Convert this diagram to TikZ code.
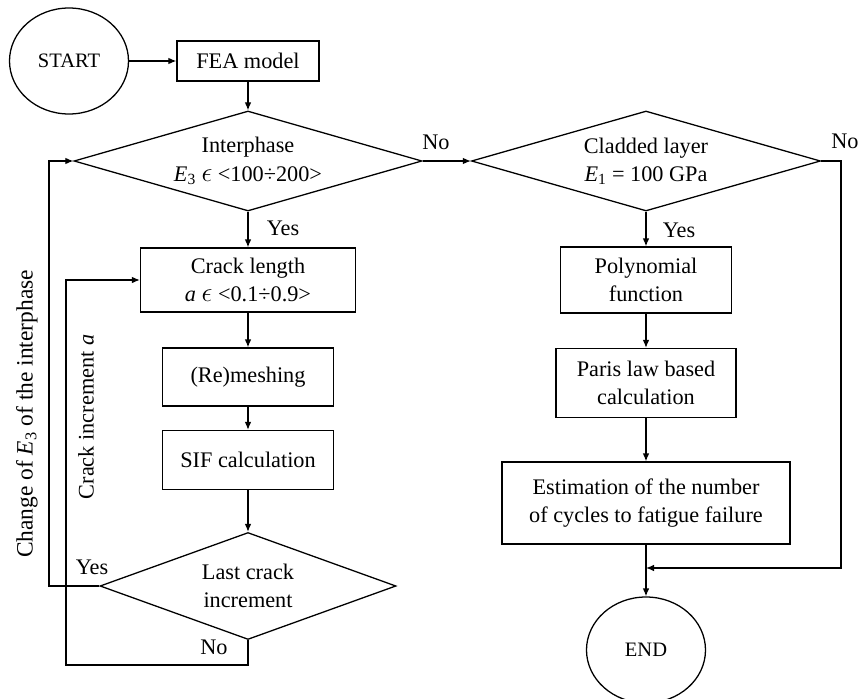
\documentclass[tikz,border=0pt]{standalone}
\usepackage{fontspec}
\usepackage{graphicx}
\setmainfont{Liberation Serif}
\usetikzlibrary{shapes.geometric,arrows.meta}
\newcommand{\inrange}{\scalebox{1.35}{$\epsilon$}}

\tikzset{
	box/.style={draw, line width=1.1pt, rectangle, align=center, inner sep=2pt},
	decision/.style={draw, line width=1.1pt, diamond, aspect=3.5, inner sep=0pt, align=center},
	terminal/.style={draw, line width=1.1pt, ellipse, inner sep=0pt, minimum width=3.57cm, minimum height=3.18cm},
	flow/.style={line width=1.1pt, -{Latex[length=2.4mm,width=2mm]}},
	tag/.style={inner sep=0pt}
}

\begin{document}
\begin{tikzpicture}[x=0.03cm, y=-0.03cm, font=\fontsize{19}{24}\selectfont]
			%%%%% FRAME %%%%%
			\useasboundingbox (0,0) rectangle (860,699);
			
			%%%%% LEFT COLUMN %%%%%
			\node[terminal] (start) at (69,61) {\fontsize{17.5}{20}\selectfont START};
			\node[box, minimum width=4.26cm, minimum height=1.2cm] (fea) at (248,61) {FEA model};
			\node[decision, minimum width=10.44cm, minimum height=3cm] (inter) at (248,161) {Interphase\\\textit{E}\textsubscript{3} \inrange{} <100÷200>};
			\node[box, minimum width=6.45cm, minimum height=1.92cm] (crack) at (248,280) {Crack length\\\textit{a} \inrange{} <0.1÷0.9>};
			\node[box, minimum width=5.13cm, minimum height=1.74cm] (remesh) at (248,377) {(Re)meshing};
			\node[box, minimum width=5.13cm, minimum height=1.77cm] (sif) at (248,460) {SIF calculation};
			\node[decision, minimum width=8.88cm, minimum height=3.21cm] (last) at (248,586) {Last crack\\increment};
			
			%%%%% RIGHT COLUMN %%%%%
			\node[decision, minimum width=10.47cm, minimum height=3cm] (clad) at (646,161) {Cladded layer\\\textit{E}\textsubscript{1} = 100 GPa};
			\node[box, minimum width=5.13cm, minimum height=1.98cm] (poly) at (646,280) {Polynomial\\function};
			\node[box, minimum width=5.4cm, minimum height=2.07cm] (paris) at (646,383) {Paris law based\\calculation};
			\node[box, minimum width=8.64cm, minimum height=2.46cm] (estim) at (646,503) {Estimation of the number\\of cycles to fatigue failure};
			\node[terminal] (end) at (646,650) {\fontsize{17.5}{20}\selectfont END};
			
			%%%%% LABELS %%%%%
			\node[tag] (noInter) at (436,142) {No};
			\node[tag] (noClad) at (845,141) {No};
			\node[tag] (yesInter) at (283,228) {Yes};
			\node[tag] (yesClad) at (679,230) {Yes};
			\node[tag] (yesLast) at (92,567) {Yes};
			\node[tag] (noLast) at (214,647) {No};
			\node[tag, rotate=90] (changeLbl) at (27,414) {\fontsize{20}{24}\selectfont Change of \textit{E}\textsubscript{3} of the interphase};
			\node[tag, rotate=90] (incLbl) at (86,417) {Crack increment \textit{a}};
			
			%%%%% CONNECTORS %%%%%
			\coordinate (yesTurn) at (49,586);
			\coordinate (noTurn) at (66,665);
			\coordinate (noCorner) at (841,568);
			\coordinate (join) at (646,568);
			
			\draw[flow] (start) -- (fea);
			\draw[flow] (fea) -- (inter);
			\draw[flow] (inter) -- (clad);
			\draw[flow] (inter) -- (crack);
			\draw[flow] (crack) -- (remesh);
			\draw[flow] (remesh) -- (sif);
			\draw[flow] (sif) -- (last);
			\draw[flow] (last.west) -- (yesTurn) |- (inter.west);
			\draw[flow] (last.south) |- (noTurn) |- (crack.west);
			
			\draw[flow] (clad) -- (poly);
			\draw[flow] (poly) -- (paris);
			\draw[flow] (paris) -- (estim);
			\draw[flow] (estim) -- (end);
			\draw[flow] (clad.east) -| (noCorner) -- (join);
\end{tikzpicture}
\end{document}
